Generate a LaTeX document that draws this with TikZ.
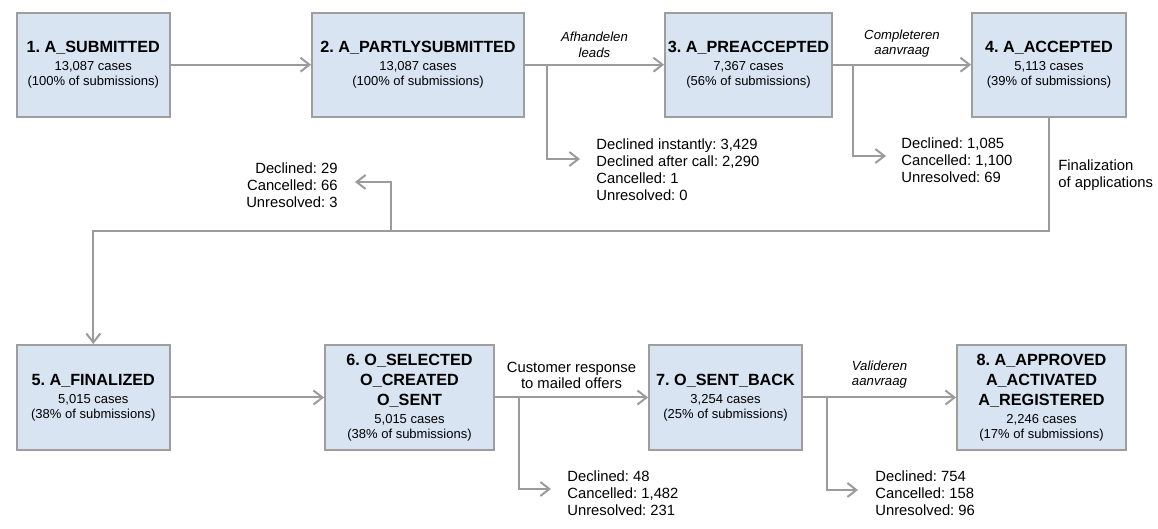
\documentclass[tikz,border=0pt]{standalone}
\usepackage{fontspec}
\setmainfont{Liberation Sans}
\usetikzlibrary{arrows.meta}
\frenchspacing

\definecolor{boxfill}{RGB}{216,228,241}
\definecolor{boxline}{RGB}{158,158,158}
\definecolor{flowgray}{RGB}{155,155,155}

\newcommand{\stname}[1]{{\fontsize{8.1}{10}\selectfont\bfseries #1}}

\begin{document}
\begin{tikzpicture}[x=0.5pt, y=-0.5pt,
	state/.style={draw=boxline, line width=0.9pt, fill=boxfill, align=center, inner sep=0pt, minimum height=52pt, font=\fontsize{6.5}{7.5}\selectfont},
	flow/.style={draw=flowgray, line width=1pt, -{Straight Barb[length=4.5pt,width=7pt,line width=1pt]}},
	outcome/.style={align=left, inner sep=0pt, font=\fontsize{7.4}{8.5}\selectfont},
	activity/.style={align=center, inner sep=0pt, font=\fontsize{6.6}{7.8}\selectfont\itshape}]
	\useasboundingbox (0,0) rectangle (1158,529);

	% upper row
	\node[state, minimum width=76.7pt] (s1) at (93.3,64.7) {\stname{1. A\_SUBMITTED}\\[1.5pt] 13,087 cases\\ (100\% of submissions)};
	\node[state, minimum width=106pt] (s2) at (418,64.7) {\stname{2. A\_PARTLYSUBMITTED}\\[1.5pt] 13,087 cases\\ (100\% of submissions)};
	\node[state, minimum width=83.5pt] (s3) at (748.5,64.7) {\stname{3. A\_PREACCEPTED}\\[1.5pt] 7,367 cases\\ (56\% of submissions)};
	\node[state, minimum width=77pt] (s4) at (1049,64.7) {\stname{4. A\_ACCEPTED}\\[1.5pt] 5,113 cases\\ (39\% of submissions)};

	% lower row
	\node[state, minimum width=76.7pt, minimum height=52.5pt] (s5) at (93.3,397.5) {\stname{5. A\_FINALIZED}\\[1.5pt] 5,015 cases\\ (38\% of submissions)};
	\node[state, minimum width=84.5pt, minimum height=52.5pt] (s6) at (409.5,397.5) {\stname{6. O\_SELECTED}\\[2.5pt] \stname{O\_CREATED}\\[2.5pt] \stname{O\_SENT}\\[1.25pt] 5,015 cases\\ (38\% of submissions)};
	\node[state, minimum width=76.5pt, minimum height=52.5pt] (s7) at (725.5,397.5) {\stname{7. O\_SENT\_BACK}\\[1.5pt] 3,254 cases\\ (25\% of submissions)};
	\node[state, minimum width=84.5pt, minimum height=52.5pt] (s8) at (1041.5,397.5) {\stname{8. A\_APPROVED}\\[2.5pt] \stname{A\_ACTIVATED}\\[2.5pt] \stname{A\_REGISTERED}\\[1.25pt] 2,246 cases\\ (17\% of submissions)};

	% drop-outs
	\node[outcome, anchor=west] (d2) at (596,170) {Declined instantly: 3,429\\ Declined after call: 2,290\\ Cancelled: 1\\ Unresolved: 0};
	\node[outcome, anchor=west] (d3) at (901,160) {Declined: 1,085\\ Cancelled: 1,100\\ Unresolved: 69};
	\node[outcome, anchor=east, align=right] (d4) at (338,185) {Declined: 29\\ Cancelled: 66\\ Unresolved: 3};
	\node[outcome, anchor=west] (d6) at (567,493) {Declined: 48\\ Cancelled: 1,482\\ Unresolved: 231};
	\node[outcome, anchor=west] (d7) at (875,493) {Declined: 754\\ Cancelled: 158\\ Unresolved: 96};
	\node[outcome, anchor=west] (fin) at (1058,175) {Finalization\\ of applications};

	\coordinate (b2) at ([xshift=11pt]s2.east);
	\coordinate (b3) at ([xshift=10pt]s3.east);
	\coordinate (b6) at ([xshift=12pt]s6.east);
	\coordinate (b7) at ([xshift=12pt]s7.east);
	\coordinate (e2) at (580,159);
	\coordinate (e3) at (886,156);
	\coordinate (e6) at (551,489);
	\coordinate (e7) at (858,490);
	\coordinate (b4) at (391,231);
	\coordinate (e4) at (355,182);

	\draw[flow] (s1) -- (s2);
	\draw[flow] (s2) -- (s3) node[activity, midway, above=3pt] {Afhandelen\\ leads};
	\draw[flow] (s3) -- (s4) node[activity, midway, above=3pt] {Completeren\\ aanvraag};
	\draw[flow] (s4.south) -- (s4.south |- b4) -| (s5.north);
	\draw[flow] (s5) -- (s6);
	\draw[flow] (s6) -- (s7) node[midway, above=4pt, align=center, inner sep=0pt, font=\fontsize{7.4}{8}\selectfont] {Customer response\\ to mailed offers};
	\draw[flow] (s7) -- (s8) node[activity, midway, above=4pt] {Valideren\\ aanvraag};

	\draw[flow] (b2) |- (e2);
	\draw[flow] (b3) |- (e3);
	\draw[flow] (b4) |- (e4);
	\draw[flow] (b6) |- (e6);
	\draw[flow] (b7) |- (e7);
\end{tikzpicture}
\end{document}
